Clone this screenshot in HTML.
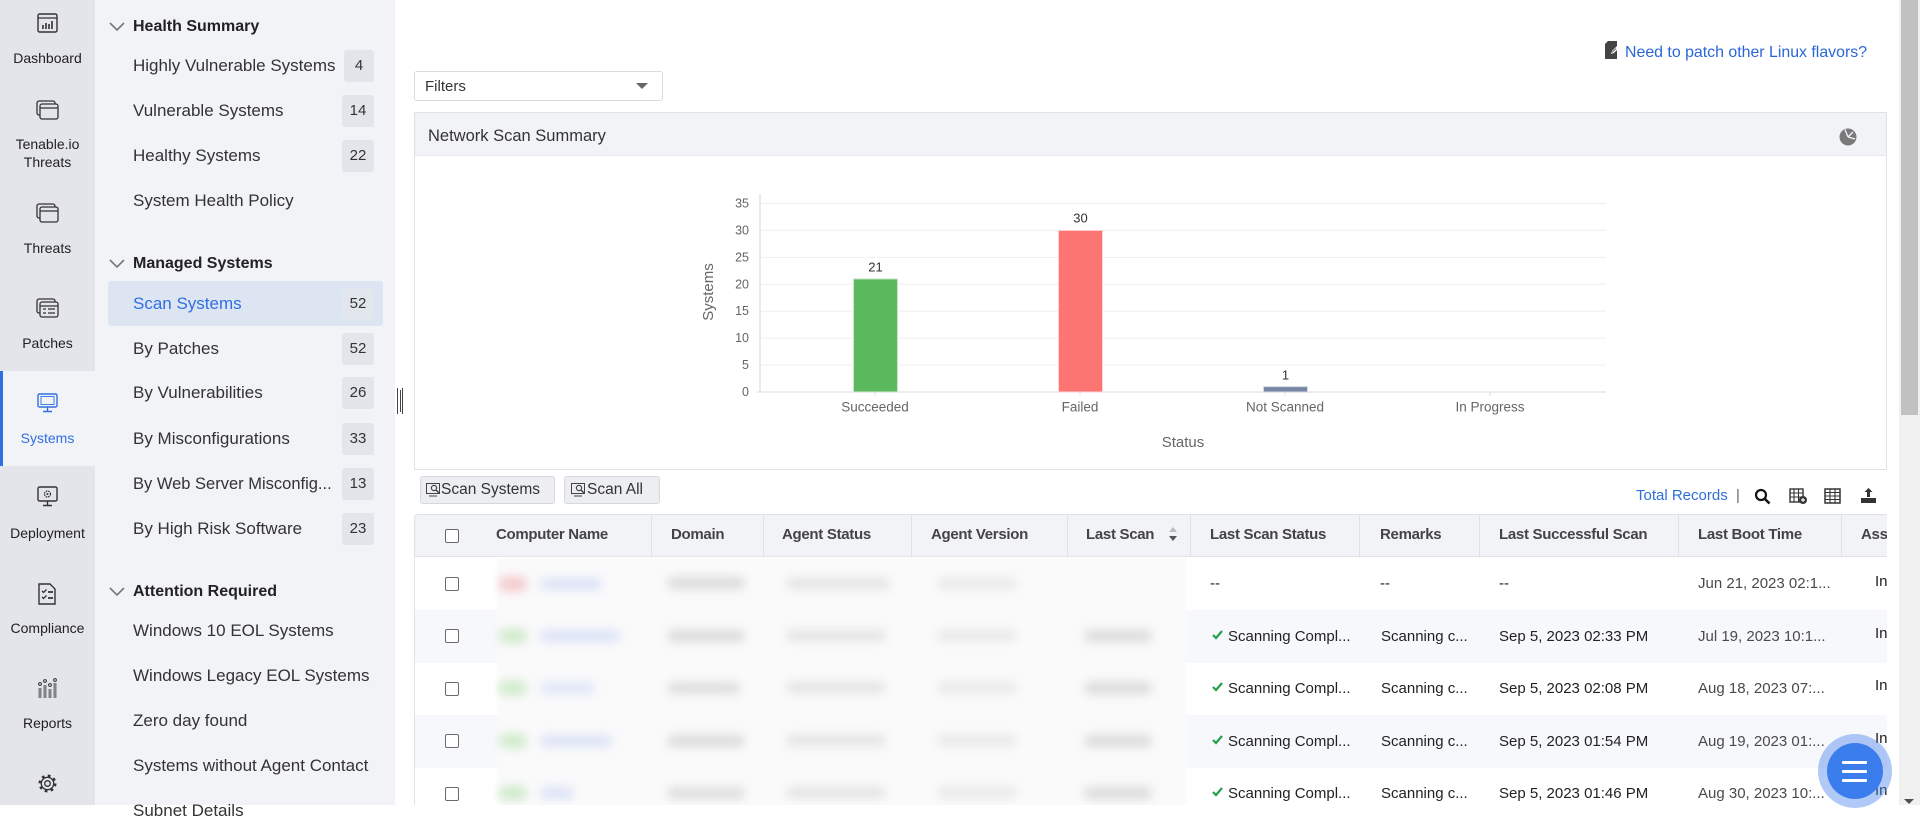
<!DOCTYPE html>
<html><head><meta charset="utf-8">
<style>
*{box-sizing:border-box;margin:0;padding:0}
html,body{width:1920px;height:805px;overflow:hidden;background:#fff;font-family:"Liberation Sans",Arial,sans-serif;color:#333}
.a{position:absolute}
.t{position:absolute;white-space:nowrap;line-height:20px;height:20px}
.nav{font-size:14px;color:#222;width:95px;left:0;text-align:center}
.it{left:133px;font-size:17px;color:#333}
.hd{left:133px;font-size:16px;font-weight:bold;color:#222}
.bd{position:absolute;left:342px;width:32px;height:32px;background:#e4e5ea;border-radius:3px;font-size:15px;line-height:32px;text-align:center;color:#333}
.th{position:absolute;top:525px;font-size:15px;font-weight:bold;letter-spacing:-0.3px;color:#444;line-height:20px;white-space:nowrap}
.sep{position:absolute;top:514px;width:1px;height:43px;background:#dfe1e6}
.cb{position:absolute;left:445px;width:14px;height:14px;border:1.3px solid #6a6a6a;border-radius:2px;background:#fff}
.td{position:absolute;font-size:15px;color:#222;line-height:20px;white-space:nowrap}
.bl{position:absolute;border-radius:8px;filter:blur(5px)}
</style></head><body>

<!-- icon bar -->
<div class="a" style="left:0;top:0;width:95px;height:805px;background:#e4e5ea"></div>
<div class="a" style="left:0;top:371px;width:95px;height:95px;background:#f2f3f7"></div>
<div class="a" style="left:0;top:371px;width:3px;height:95px;background:#2f6fe4"></div>

<svg class="a" style="left:37px;top:13px" width="21" height="20" viewBox="0 0 21 20"><rect x="1" y="1" width="19" height="18" rx="1.5" fill="none" stroke="#333" stroke-width="1.4"/><line x1="1" y1="5" x2="20" y2="5" stroke="#333" stroke-width="1.2"/><path d="M6 16V12M9 16V10M12 16V11M15 16V8" stroke="#333" stroke-width="1.6"/></svg>
<div class="t nav" style="top:48px">Dashboard</div>

<svg class="a" style="left:36px;top:100px" width="23" height="20" viewBox="0 0 23 20"><rect x="1" y="1" width="18" height="14" rx="2" fill="none" stroke="#333" stroke-width="1.3"/><rect x="4" y="4" width="18" height="15" rx="2" fill="#e4e5ea" stroke="#333" stroke-width="1.3"/><line x1="4" y1="8" x2="22" y2="8" stroke="#333" stroke-width="1.2"/></svg>
<div class="t nav" style="top:134px">Tenable.io</div>
<div class="t nav" style="top:152px">Threats</div>

<svg class="a" style="left:36px;top:203px" width="23" height="20" viewBox="0 0 23 20"><rect x="1" y="1" width="18" height="14" rx="2" fill="none" stroke="#333" stroke-width="1.3"/><rect x="4" y="4" width="18" height="15" rx="2" fill="#e4e5ea" stroke="#333" stroke-width="1.3"/><line x1="4" y1="8" x2="22" y2="8" stroke="#333" stroke-width="1.2"/></svg>
<div class="t nav" style="top:238px">Threats</div>

<svg class="a" style="left:36px;top:298px" width="23" height="20" viewBox="0 0 23 20"><rect x="1" y="1" width="18" height="14" rx="2" fill="none" stroke="#333" stroke-width="1.3"/><rect x="4" y="4" width="18" height="15" rx="2" fill="#e4e5ea" stroke="#333" stroke-width="1.3"/><line x1="4" y1="8" x2="22" y2="8" stroke="#333" stroke-width="1.2"/><path d="M7 11h3M12 11h7M7 15h3M12 15h7" stroke="#333" stroke-width="1.3"/></svg>
<div class="t nav" style="top:333px">Patches</div>

<svg class="a" style="left:37px;top:393px" width="21" height="20" viewBox="0 0 21 20"><rect x="1" y="1" width="19" height="13" rx="1.5" fill="none" stroke="#2f6fe4" stroke-width="1.4"/><path d="M10.5 14v4M6 18.5h9" stroke="#2f6fe4" stroke-width="1.4"/><rect x="4" y="3.5" width="13" height="8" fill="none" stroke="#2f6fe4" stroke-width="0.9"/></svg>
<div class="t nav" style="top:428px;color:#2f6fe4">Systems</div>

<svg class="a" style="left:37px;top:486px" width="21" height="21" viewBox="0 0 21 21"><rect x="1" y="1" width="19" height="14" rx="1.5" fill="none" stroke="#333" stroke-width="1.4"/><path d="M10.5 15v4M6 19.5h9" stroke="#333" stroke-width="1.4"/><circle cx="10.5" cy="8" r="3" fill="none" stroke="#333" stroke-width="1.2" stroke-dasharray="1.6 0.8"/><circle cx="10.5" cy="8" r="1" fill="#333"/></svg>
<div class="t nav" style="top:523px">Deployment</div>

<svg class="a" style="left:38px;top:583px" width="19" height="22" viewBox="0 0 19 22"><path d="M1 1h11l5 5v15H1z" fill="none" stroke="#333" stroke-width="1.4"/><path d="M4 8l1.5 1.5 3-3M4 14l1.5 1.5 3-3" fill="none" stroke="#333" stroke-width="1.3"/><path d="M10 9h5M10 15h5" stroke="#333" stroke-width="1.8"/></svg>
<div class="t nav" style="top:618px">Compliance</div>

<svg class="a" style="left:37px;top:678px" width="21" height="21" viewBox="0 0 21 21"><path d="M3 20V10M8 20V7M13 20V11M18 20V5" stroke="#333" stroke-width="2.6" fill="none"/><path d="M3 20V10M8 20V7M13 20V11M18 20V5" stroke="#e4e5ea" stroke-width="0.9" fill="none"/><circle cx="3" cy="6" r="1.4" fill="none" stroke="#333"/><circle cx="8" cy="3" r="1.4" fill="none" stroke="#333"/><circle cx="13" cy="7" r="1.4" fill="none" stroke="#333"/><circle cx="18" cy="2" r="1.4" fill="none" stroke="#333"/></svg>
<div class="t nav" style="top:713px">Reports</div>

<svg class="a" style="left:37px;top:773px" width="21" height="21" viewBox="0 0 21 21"><circle cx="10.5" cy="10.5" r="7.5" fill="none" stroke="#333" stroke-width="3" stroke-dasharray="2.6 3.3"/><circle cx="10.5" cy="10.5" r="6.2" fill="#e4e5ea" stroke="#333" stroke-width="1.3"/><circle cx="10.5" cy="10.5" r="2.8" fill="none" stroke="#333" stroke-width="1.3"/></svg>

<!-- side panel -->
<div class="a" style="left:95px;top:0;width:300px;height:805px;background:#f2f3f7"></div>
<div class="a" style="left:108px;top:281px;width:275px;height:45px;background:#dce5f1;border-radius:3px"></div>

<svg class="a" style="left:108px;top:0" width="20" height="805" viewBox="0 0 20 805"><path d="M2 23l7 7 7-7M2 260l7 7 7-7M2 588l7 7 7-7" fill="none" stroke="#777" stroke-width="1.6"/></svg>

<div class="t hd" style="top:17px">Health Summary</div>
<div class="t it" style="top:56px">Highly Vulnerable Systems</div><div class="bd" style="top:50px;left:344px;width:30px">4</div>
<div class="t it" style="top:101px">Vulnerable Systems</div><div class="bd" style="top:95px">14</div>
<div class="t it" style="top:146px">Healthy Systems</div><div class="bd" style="top:140px">22</div>
<div class="t it" style="top:191px">System Health Policy</div>
<div class="t hd" style="top:254px">Managed Systems</div>
<div class="t it" style="top:294px;color:#2f6fe4">Scan Systems</div><div class="bd" style="top:288px;background:#e2e7ee">52</div>
<div class="t it" style="top:339px">By Patches</div><div class="bd" style="top:333px">52</div>
<div class="t it" style="top:383px">By Vulnerabilities</div><div class="bd" style="top:377px">26</div>
<div class="t it" style="top:429px">By Misconfigurations</div><div class="bd" style="top:423px">33</div>
<div class="t it" style="top:474px;font-size:16.5px">By Web Server Misconfig...</div><div class="bd" style="top:468px">13</div>
<div class="t it" style="top:519px">By High Risk Software</div><div class="bd" style="top:513px">23</div>
<div class="t hd" style="top:582px">Attention Required</div>
<div class="t it" style="top:621px">Windows 10 EOL Systems</div>
<div class="t it" style="top:666px">Windows Legacy EOL Systems</div>
<div class="t it" style="top:711px">Zero day found</div>
<div class="t it" style="top:756px">Systems without Agent Contact</div>
<div class="t it" style="top:801px">Subnet Details</div>

<!-- splitter handle -->
<div class="a" style="left:397px;top:388px;width:6px;height:26px;border-left:1.5px solid #444;border-right:1.5px solid #444"></div>
<div class="a" style="left:399.5px;top:390px;width:1px;height:22px;background:#444"></div>

<!-- top link -->
<svg class="a" style="left:1605px;top:41px" width="15" height="18" viewBox="0 0 15 18"><path d="M0 3l3-3h9v18H0z" fill="#444"/><path d="M6 13l1-3 5-5 2 2-5 5z" fill="#fff"/><path d="M7 11.5l4-4" stroke="#444" stroke-width="0.8"/></svg>
<div class="t" style="left:1625px;top:43px;font-size:15.9px;color:#2a66d9">Need to patch other Linux flavors?</div>

<!-- filters -->
<div class="a" style="left:414px;top:71px;width:249px;height:30px;border:1px solid #d8dadf;border-radius:3px;background:#fff"></div>
<div class="t" style="left:425px;top:77px;font-size:15px;color:#333">Filters</div>
<svg class="a" style="left:636px;top:83px" width="12" height="7" viewBox="0 0 12 7"><path d="M0 0h12L6 6z" fill="#666"/></svg>

<!-- chart panel -->
<div class="a" style="left:414px;top:112px;width:1473px;height:358px;border:1px solid #dfe1e6;background:#fff"></div>
<div class="a" style="left:415px;top:113px;width:1471px;height:43px;background:#f2f3f7;border-bottom:1px solid #e6e8ec"></div>
<div class="t" style="left:428px;top:126px;font-size:16.5px;color:#333">Network Scan Summary</div>
<svg class="a" style="left:1839px;top:128px" width="18" height="18" viewBox="0 0 18 18"><circle cx="9" cy="9" r="8.5" fill="#7a7a7a"/><path d="M9 9L6 1.5M9 9l5-5M9 9l7 2" stroke="#f2f3f7" stroke-width="1.3"/></svg>

<svg class="a" style="left:414px;top:156px" width="1473" height="313" viewBox="414 156 1473 313" font-family="Liberation Sans, Arial, sans-serif">
<g stroke="#efefef" stroke-width="1">
<line x1="760" y1="203.5" x2="1606" y2="203.5"/><line x1="760" y1="230.4" x2="1606" y2="230.4"/><line x1="760" y1="257.4" x2="1606" y2="257.4"/><line x1="760" y1="284.3" x2="1606" y2="284.3"/><line x1="760" y1="311.2" x2="1606" y2="311.2"/><line x1="760" y1="338.1" x2="1606" y2="338.1"/><line x1="760" y1="365.1" x2="1606" y2="365.1"/>
</g>
<line x1="760" y1="194" x2="760" y2="392" stroke="#e4e4e4" stroke-width="1.5"/>
<line x1="757" y1="392" x2="1606" y2="392" stroke="#e0e0e0" stroke-width="1.2"/>
<g stroke="#e0e0e0"><line x1="875" y1="392" x2="875" y2="396"/><line x1="1080" y1="392" x2="1080" y2="396"/><line x1="1285" y1="392" x2="1285" y2="396"/><line x1="1490" y1="392" x2="1490" y2="396"/></g>
<g font-size="12.5" fill="#666" text-anchor="end">
<text x="749" y="207.5">35</text><text x="749" y="234.4">30</text><text x="749" y="261.4">25</text><text x="749" y="288.3">20</text><text x="749" y="315.2">15</text><text x="749" y="342.1">10</text><text x="749" y="369.1">5</text><text x="749" y="396">0</text>
</g>
<rect x="853.5" y="278.9" width="44" height="113.1" fill="#5cb85c" stroke="#cfe9cf" stroke-width="1"/>
<rect x="1058.5" y="230.4" width="44" height="161.6" fill="#fc7572" stroke="#fbd6d5" stroke-width="1"/>
<rect x="1263.5" y="386.6" width="44" height="5.4" fill="#7885a5" stroke="#d5dae5" stroke-width="1"/>
<g font-size="13" fill="#333" text-anchor="middle">
<text x="875.5" y="271.5">21</text><text x="1080.5" y="222.5">30</text><text x="1285.5" y="379.5">1</text>
</g>
<g font-size="13.5" fill="#666" text-anchor="middle">
<text x="875" y="411.5">Succeeded</text><text x="1080" y="411.5">Failed</text><text x="1285" y="411.5">Not Scanned</text><text x="1490" y="411.5">In Progress</text>
</g>
<text x="1183" y="447" font-size="15" fill="#666" text-anchor="middle">Status</text>
<text transform="translate(713,292) rotate(-90)" font-size="15" fill="#666" text-anchor="middle">Systems</text>
</svg>

<!-- toolbar buttons -->
<div class="a" style="left:420px;top:476px;width:135px;height:28px;background:#eceef2;border:1px solid #d5d7dc;border-radius:3px"></div>
<svg class="a" style="left:426px;top:483px" width="15" height="14" viewBox="0 0 15 14"><rect x="0.5" y="0.5" width="13" height="10" fill="none" stroke="#444"/><path d="M3 13h8" stroke="#444"/><circle cx="8" cy="5" r="2.6" fill="none" stroke="#444" stroke-width="1.2"/><path d="M10 7l3 3" stroke="#444" stroke-width="1.4"/></svg>
<div class="t" style="left:441px;top:480px;font-size:15.5px;color:#333">Scan Systems</div>
<div class="a" style="left:564px;top:476px;width:96px;height:28px;background:#eceef2;border:1px solid #d5d7dc;border-radius:3px"></div>
<svg class="a" style="left:571px;top:483px" width="15" height="14" viewBox="0 0 15 14"><rect x="0.5" y="0.5" width="13" height="10" fill="none" stroke="#444"/><path d="M3 13h8" stroke="#444"/><circle cx="8" cy="5" r="2.6" fill="none" stroke="#444" stroke-width="1.2"/><path d="M10 7l3 3" stroke="#444" stroke-width="1.4"/></svg>
<div class="t" style="left:587px;top:480px;font-size:15.5px;color:#333">Scan All</div>

<div class="t" style="left:1636px;top:486px;font-size:15px;color:#2f6fd6">Total Records</div>
<div class="t" style="left:1736px;top:486px;font-size:15px;color:#666">|</div>
<svg class="a" style="left:1754px;top:488px" width="17" height="17" viewBox="0 0 17 17"><circle cx="7" cy="7" r="5" fill="none" stroke="#111" stroke-width="2.2"/><path d="M10.5 10.5l5 5" stroke="#111" stroke-width="2.6"/></svg>
<svg class="a" style="left:1789px;top:488px" width="19" height="17" viewBox="0 0 19 17"><rect x="1" y="1" width="13" height="13" fill="none" stroke="#333" stroke-width="1.4"/><path d="M1 5h13M1 9h13M5 1v13M9.5 1v13" stroke="#333" stroke-width="1.1"/><circle cx="14" cy="12" r="4" fill="#333"/><path d="M14 10v4M12 12h4" stroke="#fff" stroke-width="1.2"/></svg>
<svg class="a" style="left:1824px;top:488px" width="17" height="16" viewBox="0 0 17 16"><rect x="1" y="1" width="15" height="14" fill="none" stroke="#333" stroke-width="1.5"/><path d="M1 4.5h15M1 8h15M1 11.5h15M6 1v14M11 1v14" stroke="#333" stroke-width="1.1"/></svg>
<svg class="a" style="left:1860px;top:487px" width="17" height="17" viewBox="0 0 17 17"><path d="M8.5 1l4 4h-2.5v5h-3v-5H4.5z" fill="#333"/><rect x="1" y="11" width="15" height="5" fill="#333"/></svg>

<!-- table (clipped at right edge) -->
<div class="a" style="left:0;top:0;width:1887px;height:805px;overflow:hidden">
  <div class="a" style="left:414px;top:514px;width:1480px;height:300px;border-left:1px solid #dfe1e6;border-top:1px solid #dfe1e6;border-top-left-radius:4px;background:#fff"></div>
  <div class="a" style="left:415px;top:515px;width:1480px;height:42px;background:#f2f3f7;border-bottom:1px solid #dfe1e6;border-top-left-radius:3px"></div>
  <div class="a" style="left:415px;top:610px;width:1480px;height:53px;background:#f7f8fb"></div>
  <div class="a" style="left:415px;top:715px;width:1480px;height:53px;background:#f7f8fb"></div>
  <div class="a" style="left:497px;top:558px;width:689px;height:250px;background:#fafafb;filter:blur(2px)"></div>

  <div class="sep" style="left:651px"></div><div class="sep" style="left:763px"></div><div class="sep" style="left:911px"></div>
  <div class="sep" style="left:1067px"></div><div class="sep" style="left:1190px"></div><div class="sep" style="left:1359px"></div>
  <div class="sep" style="left:1479px"></div><div class="sep" style="left:1678px"></div><div class="sep" style="left:1841px"></div>

  <div class="cb" style="top:529px"></div>
  <div class="th" style="left:496px">Computer Name</div>
  <div class="th" style="left:671px">Domain</div>
  <div class="th" style="left:782px">Agent Status</div>
  <div class="th" style="left:931px">Agent Version</div>
  <div class="th" style="left:1086px">Last Scan</div>
  <svg class="a" style="left:1168px;top:526px" width="10" height="17" viewBox="0 0 10 17"><path d="M1 6l4-5 4 5z" fill="#bbb"/><path d="M1 10l4 5 4-5z" fill="#555"/></svg>
  <div class="th" style="left:1210px">Last Scan Status</div>
  <div class="th" style="left:1380px">Remarks</div>
  <div class="th" style="left:1499px">Last Successful Scan</div>
  <div class="th" style="left:1698px">Last Boot Time</div>
  <div class="th" style="left:1861px">Asset</div>

  <!-- checkboxes -->
  <div class="cb" style="top:577px"></div>
  <div class="cb" style="top:629px"></div>
  <div class="cb" style="top:682px"></div>
  <div class="cb" style="top:734px"></div>
  <div class="cb" style="top:787px"></div>

  <!-- blurred cells -->
  <div class="bl" style="left:499px;top:577px;width:28px;height:14px;background:rgba(235,110,110,.35)"></div>
  <div class="bl" style="left:540px;top:578px;width:62px;height:12px;background:rgba(90,130,230,.18)"></div>
  <div class="bl" style="left:667px;top:577px;width:78px;height:12px;background:rgba(0,0,0,.12)"></div>
  <div class="bl" style="left:786px;top:578px;width:104px;height:11px;background:rgba(0,0,0,.09)"></div>
  <div class="bl" style="left:937px;top:578px;width:80px;height:11px;background:rgba(0,0,0,.07)"></div>

  <div class="bl" style="left:499px;top:629px;width:28px;height:14px;background:rgba(110,200,90,.3)"></div>
  <div class="bl" style="left:540px;top:630px;width:80px;height:12px;background:rgba(90,130,230,.18)"></div>
  <div class="bl" style="left:667px;top:630px;width:78px;height:12px;background:rgba(0,0,0,.12)"></div>
  <div class="bl" style="left:786px;top:630px;width:100px;height:11px;background:rgba(0,0,0,.09)"></div>
  <div class="bl" style="left:937px;top:630px;width:80px;height:11px;background:rgba(0,0,0,.07)"></div>
  <div class="bl" style="left:1084px;top:630px;width:68px;height:12px;background:rgba(0,0,0,.12)"></div>

  <div class="bl" style="left:499px;top:681px;width:28px;height:14px;background:rgba(110,200,90,.3)"></div>
  <div class="bl" style="left:540px;top:682px;width:55px;height:12px;background:rgba(90,130,230,.16)"></div>
  <div class="bl" style="left:667px;top:682px;width:74px;height:12px;background:rgba(0,0,0,.11)"></div>
  <div class="bl" style="left:786px;top:682px;width:100px;height:11px;background:rgba(0,0,0,.09)"></div>
  <div class="bl" style="left:937px;top:682px;width:80px;height:11px;background:rgba(0,0,0,.07)"></div>
  <div class="bl" style="left:1084px;top:682px;width:68px;height:12px;background:rgba(0,0,0,.12)"></div>

  <div class="bl" style="left:499px;top:734px;width:28px;height:14px;background:rgba(110,200,90,.3)"></div>
  <div class="bl" style="left:540px;top:735px;width:72px;height:12px;background:rgba(90,130,230,.18)"></div>
  <div class="bl" style="left:667px;top:735px;width:78px;height:12px;background:rgba(0,0,0,.12)"></div>
  <div class="bl" style="left:786px;top:735px;width:100px;height:11px;background:rgba(0,0,0,.09)"></div>
  <div class="bl" style="left:937px;top:735px;width:80px;height:11px;background:rgba(0,0,0,.07)"></div>
  <div class="bl" style="left:1084px;top:735px;width:68px;height:12px;background:rgba(0,0,0,.12)"></div>

  <div class="bl" style="left:499px;top:786px;width:28px;height:14px;background:rgba(110,200,90,.3)"></div>
  <div class="bl" style="left:540px;top:787px;width:34px;height:12px;background:rgba(90,130,230,.18)"></div>
  <div class="bl" style="left:667px;top:787px;width:78px;height:12px;background:rgba(0,0,0,.11)"></div>
  <div class="bl" style="left:786px;top:787px;width:100px;height:11px;background:rgba(0,0,0,.09)"></div>
  <div class="bl" style="left:937px;top:787px;width:80px;height:11px;background:rgba(0,0,0,.07)"></div>
  <div class="bl" style="left:1084px;top:787px;width:68px;height:12px;background:rgba(0,0,0,.12)"></div>

  <!-- row 1 -->
  <div class="td" style="left:1210px;top:574px">--</div>
  <div class="td" style="left:1380px;top:574px">--</div>
  <div class="td" style="left:1499px;top:574px">--</div>
  <div class="td" style="left:1698px;top:574px;color:#4a4a4a">Jun 21, 2023 02:1...</div>
  <div class="td" style="left:1875px;top:572px">In</div>

  <!-- row 2 -->
  <svg class="a" style="left:1212px;top:630px" width="11" height="10" viewBox="0 0 11 10"><path d="M1 5l3 3 6-7" fill="none" stroke="#22a04a" stroke-width="2.2"/></svg>
  <div class="td" style="left:1228px;top:627px">Scanning Compl...</div>
  <div class="td" style="left:1381px;top:627px">Scanning c...</div>
  <div class="td" style="left:1499px;top:627px">Sep 5, 2023 02:33 PM</div>
  <div class="td" style="left:1698px;top:627px;color:#4a4a4a">Jul 19, 2023 10:1...</div>
  <div class="td" style="left:1875px;top:624px">In</div>

  <!-- row 3 -->
  <svg class="a" style="left:1212px;top:682px" width="11" height="10" viewBox="0 0 11 10"><path d="M1 5l3 3 6-7" fill="none" stroke="#22a04a" stroke-width="2.2"/></svg>
  <div class="td" style="left:1228px;top:679px">Scanning Compl...</div>
  <div class="td" style="left:1381px;top:679px">Scanning c...</div>
  <div class="td" style="left:1499px;top:679px">Sep 5, 2023 02:08 PM</div>
  <div class="td" style="left:1698px;top:679px;color:#4a4a4a">Aug 18, 2023 07:...</div>
  <div class="td" style="left:1875px;top:676px">In</div>

  <!-- row 4 -->
  <svg class="a" style="left:1212px;top:735px" width="11" height="10" viewBox="0 0 11 10"><path d="M1 5l3 3 6-7" fill="none" stroke="#22a04a" stroke-width="2.2"/></svg>
  <div class="td" style="left:1228px;top:732px">Scanning Compl...</div>
  <div class="td" style="left:1381px;top:732px">Scanning c...</div>
  <div class="td" style="left:1499px;top:732px">Sep 5, 2023 01:54 PM</div>
  <div class="td" style="left:1698px;top:732px;color:#4a4a4a">Aug 19, 2023 01:...</div>
  <div class="td" style="left:1875px;top:729px">In</div>

  <!-- row 5 -->
  <svg class="a" style="left:1212px;top:787px" width="11" height="10" viewBox="0 0 11 10"><path d="M1 5l3 3 6-7" fill="none" stroke="#22a04a" stroke-width="2.2"/></svg>
  <div class="td" style="left:1228px;top:784px">Scanning Compl...</div>
  <div class="td" style="left:1381px;top:784px">Scanning c...</div>
  <div class="td" style="left:1499px;top:784px">Sep 5, 2023 01:46 PM</div>
  <div class="td" style="left:1698px;top:784px;color:#4a4a4a">Aug 30, 2023 10:...</div>
  <div class="td" style="left:1875px;top:781px">In</div>
</div>

<!-- FAB -->
<div class="a" style="left:1818px;top:734px;width:74px;height:74px;border-radius:50%;background:rgba(80,135,235,.45)"></div>
<div class="a" style="left:1827px;top:743px;width:56px;height:56px;border-radius:50%;background:#3b7ded"></div>
<div class="a" style="left:1842px;top:761px;width:25px;height:2.5px;background:#fff;border-radius:1px"></div>
<div class="a" style="left:1842px;top:770px;width:25px;height:2.5px;background:#fff;border-radius:1px"></div>
<div class="a" style="left:1842px;top:779px;width:25px;height:2.5px;background:#fff;border-radius:1px"></div>

<!-- scrollbar -->
<div class="a" style="left:1899px;top:0;width:21px;height:805px;background:#f1f1f1"></div>
<div class="a" style="left:1901px;top:0;width:17px;height:415px;background:#c1c1c1"></div>
<svg class="a" style="left:1904px;top:799px" width="10" height="6" viewBox="0 0 10 6"><path d="M0 0h10L5 5z" fill="#505050"/></svg>

</body></html>
